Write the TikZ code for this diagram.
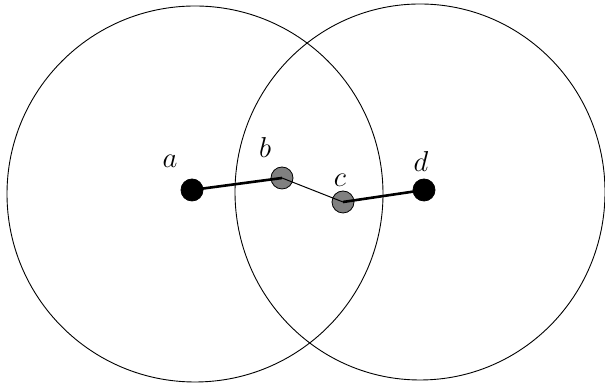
\documentclass[tikz,border=0pt]{standalone}
\begin{document}
\begin{tikzpicture}[x=0.5pt,y=-0.5pt,
  blacknode/.style={circle,fill=black,draw=black,line width=0.4pt,minimum size=11pt,inner sep=0pt},
  graynode/.style={circle,fill=gray,draw=black,line width=0.4pt,minimum size=11pt,inner sep=0pt},
  lbl/.style={font=\fontsize{15}{18}\selectfont,inner sep=0pt},
  thickedge/.style={line width=1.3pt},
  thinedge/.style={line width=0.5pt},
  rangecircle/.style={line width=0.45pt}]
\useasboundingbox (0,0) rectangle (605,383);
\draw[rangecircle] (195,194) ellipse [x radius=188, y radius=188];
\draw[rangecircle] (420,192) ellipse [x radius=185, y radius=188];
\node[graynode] (b) at (282,178) {};
\node[graynode] (c) at (343,202) {};
\draw[thickedge] (192,190) -- (b.center);
\draw[thinedge] (b.center) -- (c.center);
\draw[thickedge] (c.center) -- (424,190);
\node[blacknode] (a) at (192,190) {};
\node[blacknode] (d) at (424,190) {};
\node[lbl] (la) at (170,161) {$a$};
\node[lbl] (lb) at (265,148) {$b$};
\node[lbl] (lc) at (340,180) {$c$};
\node[lbl] (ld) at (421,162) {$d$};
\end{tikzpicture}
\end{document}
